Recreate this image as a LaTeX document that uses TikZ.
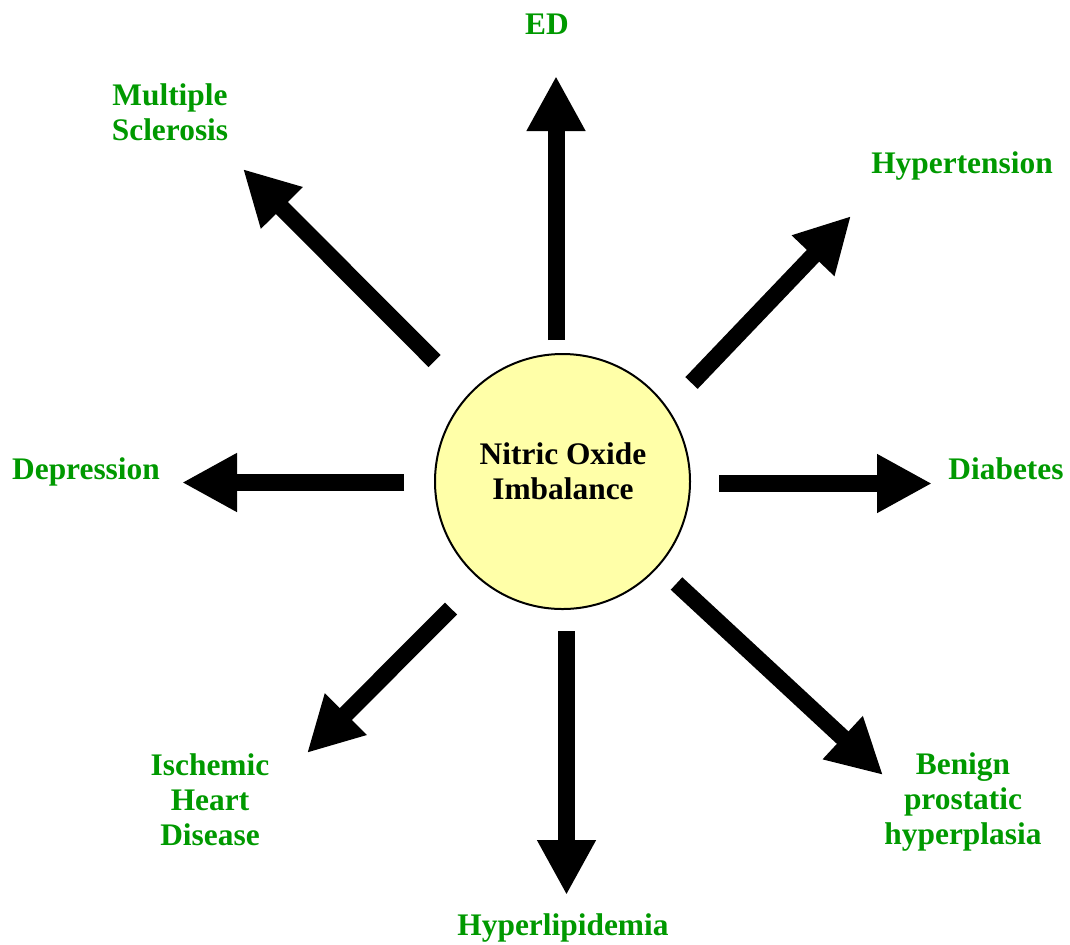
\documentclass[tikz,border=0pt]{standalone}
\usepackage{fontspec}
\setmainfont{Liberation Serif}
\usetikzlibrary{arrows.meta}
\definecolor{condgreen}{HTML}{009900}
\definecolor{noxyellow}{HTML}{FFFFA8}

\begin{document}
\begin{tikzpicture}[x=0.5pt,y=-0.5pt,
  font=\fontsize{15.7}{17.5}\selectfont\bfseries,
  hub/.style={circle,draw=black,line width=1pt,fill=noxyellow,minimum size=127.5pt,inner sep=0pt},
  txt/.style={align=center,inner sep=0pt,anchor=base},
  cond/.style={txt,text=condgreen},
  fat/.style={line width=8.5pt,-{Triangle[length=27.5pt,width=27.5pt]}}]
  \useasboundingbox (0,0) rectangle (1070,944);
  \node[hub] (nox) at (562.5,481.5) {};
  \node[txt] (noxtext) at (563,499) {Nitric Oxide\\Imbalance};
  % conditions (base = last line)
  \node[cond] (ed) at (547,34) {ED};
  \node[cond] (ms) at (170,140) {Multiple\\Sclerosis};
  \node[cond] (hyp) at (962,173) {Hypertension};
  \node[cond] (dep) at (86,479) {Depression};
  \node[cond] (dia) at (1006,479) {Diabetes};
  \node[cond] (ihd) at (210,845) {Ischemic\\Heart\\Disease};
  \node[cond] (bph) at (963,844) {Benign\\prostatic\\hyperplasia};
  \node[cond] (hld) at (563,935) {Hyperlipidemia};
  % arrow ends
  \coordinate (ed-s) at (556,340);    \coordinate (ed-t) at (556,76);
  \coordinate (hyp-s) at (691.5,383); \coordinate (hyp-t) at (851,216);
  \coordinate (dia-s) at (719,483.5); \coordinate (dia-t) at (932,483.5);
  \coordinate (bph-s) at (676.5,583.5); \coordinate (bph-t) at (883,775);
  \coordinate (hld-s) at (566.5,631); \coordinate (hld-t) at (566.5,895);
  \coordinate (ihd-s) at (451,608.5); \coordinate (ihd-t) at (307,753);
  \coordinate (dep-s) at (404,482.5); \coordinate (dep-t) at (182,482.5);
  \coordinate (ms-s) at (434.5,361);  \coordinate (ms-t) at (243,169);
  \draw[fat] (ed-s) -- (ed-t);
  \draw[fat] (hyp-s) -- (hyp-t);
  \draw[fat] (dia-s) -- (dia-t);
  \draw[fat] (bph-s) -- (bph-t);
  \draw[fat] (hld-s) -- (hld-t);
  \draw[fat] (ihd-s) -- (ihd-t);
  \draw[fat] (dep-s) -- (dep-t);
  \draw[fat] (ms-s) -- (ms-t);
\end{tikzpicture}
\end{document}
